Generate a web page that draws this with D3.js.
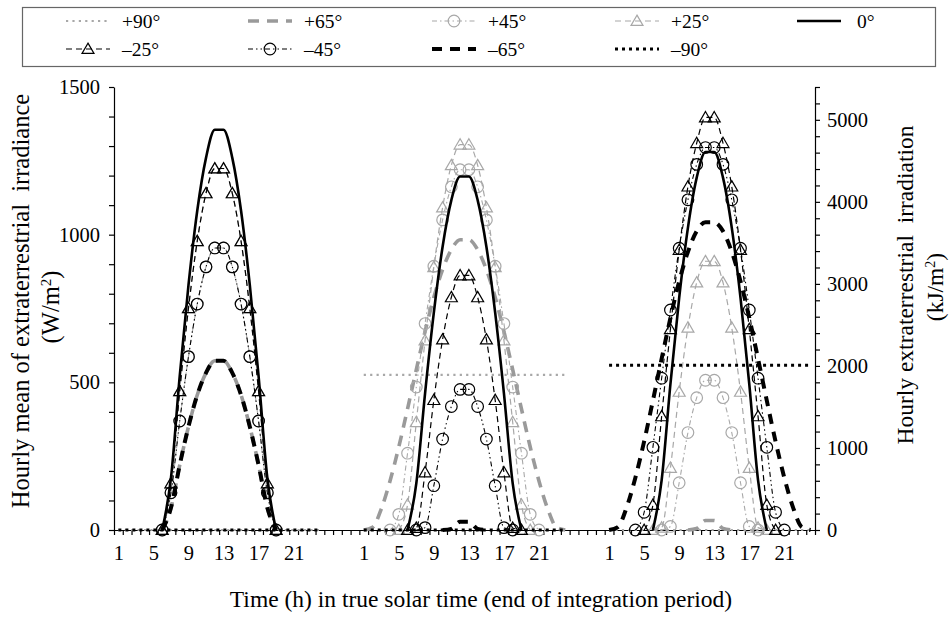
<!DOCTYPE html>
<html>
<head>
<meta charset="utf-8">
<script src="https://cdn.jsdelivr.net/npm/d3@7/dist/d3.min.js"></script>
<style>
  body { margin: 0; background: #fff; }
  svg text { font-family: "Liberation Serif", "Times New Roman", serif; fill: #000; }
</style>
</head>
<body>
<div id="chart"></div>
<script>
const n = null;

// x categories: 24 hours per panel, 4 blank slots between panels
const hours = [1, 2, 3, 4, 5, 6, 7, 8, 9, 10, 11, 12, 13, 14, 15, 16, 17, 18, 19, 20, 21, 22, 23, 24];
const blanks = ["", "", "", ""];
const categories = [...hours, ...blanks, ...hours, ...blanks, ...hours];

const leftTicks = [0, 500, 1000, 1500];
const rightTicks = [0, 1000, 2000, 3000, 4000, 5000];

const seriesNames = ["+90°", "+65°", "+45°", "+25°", "0°", "–25°", "–45°", "–65°", "–90°"];

// panel 1
const p1Plus90  = [0, 0, 0, 0, 0, 0, 0, 0, 0, 0, 0, 0, 0, 0, 0, 0, 0, 0, 0, 0, 0, 0, 0, 0];
const p1Plus65  = [n, n, n, n, n, 0, 75, 220, 350, 457, 532, 573, 573, 532, 457, 350, 220, 75, 0, n, n, n, n, n];
const p1Plus45  = [n, n, n, n, n, 0, 126, 369, 587, 765, 891, 955, 955, 891, 765, 587, 369, 126, 0, n, n, n, n, n];
const p1Plus25  = [n, n, n, n, n, 0, 158, 470, 751, 978, 1140, 1224, 1224, 1140, 978, 751, 470, 158, 0, n, n, n, n, n];
const p1Zero    = [n, n, n, n, n, 0, 176, 521, 829, 1081, 1260, 1355, 1355, 1260, 1081, 829, 521, 176, 0, n, n, n, n, n];
const p1Minus25 = [n, n, n, n, n, 0, 158, 470, 751, 978, 1140, 1224, 1224, 1140, 978, 751, 470, 158, 0, n, n, n, n, n];
const p1Minus45 = [n, n, n, n, n, 0, 126, 369, 587, 765, 891, 955, 955, 891, 765, 587, 369, 126, 0, n, n, n, n, n];
const p1Minus65 = [n, n, n, n, n, 0, 75, 220, 350, 457, 532, 573, 573, 532, 457, 350, 220, 75, 0, n, n, n, n, n];
const p1Minus90 = [0, 0, 0, 0, 0, 0, 0, 0, 0, 0, 0, 0, 0, 0, 0, 0, 0, 0, 0, 0, 0, 0, 0, 0];

// panel 2
const p2Plus90  = [525, 525, 525, 525, 525, 525, 525, 525, 525, 525, 525, 525, 525, 525, 525, 525, 525, 525, 525, 525, 525, 525, 525, 525];
const p2Plus65  = [0, 9, 71, 166, 281, 410, 543, 672, 788, 882, 949, 983, 983, 949, 882, 788, 672, 543, 410, 281, 166, 71, 9, 0];
const p2Plus45  = [n, n, n, 0, 53, 260, 484, 699, 893, 1050, 1162, 1220, 1220, 1162, 1050, 893, 699, 484, 260, 53, 0, n, n, n];
const p2Plus25  = [n, n, n, n, 0, 86, 365, 642, 890, 1092, 1235, 1305, 1305, 1235, 1092, 890, 642, 365, 86, 0, n, n, n, n];
const p2Zero    = [n, n, n, n, n, 0, 158, 463, 736, 959, 1117, 1197, 1197, 1117, 959, 736, 463, 158, 0, n, n, n, n, n];
const p2Minus25 = [n, n, n, n, n, 0, 7, 195, 440, 645, 788, 862, 862, 788, 645, 440, 195, 7, 0, n, n, n, n, n];
const p2Minus45 = [n, n, n, n, n, n, 0, 8, 150, 308, 418, 476, 476, 418, 308, 150, 8, 0, n, n, n, n, n, n];
const p2Minus65 = [n, n, n, n, n, n, n, n, n, 0, 4, 28, 28, 4, 0, n, n, n, n, n, n, n, n, n];
const p2Minus90 = [0, 0, 0, 0, 0, 0, 0, 0, 0, 0, 0, 0, 0, 0, 0, 0, 0, 0, 0, 0, 0, 0, 0, 0];

// panel 3
const p3Plus90  = [0, 0, 0, 0, 0, 0, 0, 0, 0, 0, 0, 0, 0, 0, 0, 0, 0, 0, 0, 0, 0, 0, 0, 0];
const p3Plus65  = [n, n, n, n, n, n, n, n, n, 0, 5, 32, 32, 5, 0, n, n, n, n, n, n, n, n, n];
const p3Plus45  = [n, n, n, n, n, n, 0, 12, 160, 330, 448, 507, 507, 448, 330, 160, 12, 0, n, n, n, n, n, n];
const p3Plus25  = [n, n, n, n, n, 0, 8, 210, 468, 685, 838, 910, 910, 838, 685, 468, 210, 8, 0, n, n, n, n, n];
const p3Zero    = [n, n, n, n, n, 0, 169, 494, 786, 1024, 1193, 1280, 1280, 1193, 1024, 786, 494, 169, 0, n, n, n, n, n];
const p3Minus25 = [n, n, n, n, 0, 85, 385, 680, 948, 1163, 1310, 1397, 1397, 1310, 1163, 948, 680, 385, 85, 0, n, n, n, n];
const p3Minus45 = [n, n, n, 0, 60, 280, 514, 745, 954, 1118, 1238, 1295, 1295, 1238, 1118, 954, 745, 514, 280, 60, 0, n, n, n];
const p3Minus65 = [0, 10, 76, 177, 300, 438, 580, 718, 842, 942, 1012, 1042, 1042, 1012, 942, 842, 718, 580, 438, 300, 177, 76, 10, 0];
const p3Minus90 = [558, 558, 558, 558, 558, 558, 558, 558, 558, 558, 558, 558, 558, 558, 558, 558, 558, 558, 558, 558, 558, 558, 558, 558];

const gap = [n, n, n, n];
const join = (a, b, c) => [...a, ...gap, ...b, ...gap, ...c];
const seriesValues = [
  join(p1Plus90, p2Plus90, p3Plus90),
  join(p1Plus65, p2Plus65, p3Plus65),
  join(p1Plus45, p2Plus45, p3Plus45),
  join(p1Plus25, p2Plus25, p3Plus25),
  join(p1Zero, p2Zero, p3Zero),
  join(p1Minus25, p2Minus25, p3Minus25),
  join(p1Minus45, p2Minus45, p3Minus45),
  join(p1Minus65, p2Minus65, p3Minus65),
  join(p1Minus90, p2Minus90, p3Minus90)
];

const grey = "#a8a8a8";
const styles = [
  { color: grey,   width: 2.2, dash: "2.2,4.2", marker: null },
  { color: "#9a9a9a", width: 3.6, dash: "11,8", marker: null },
  { color: grey,   width: 1.1, dash: "5,3,1.5,3", marker: "circle" },
  { color: grey,   width: 1.2, dash: "6,4", marker: "triangle" },
  { color: "#000", width: 2.6, dash: null, marker: null },
  { color: "#000", width: 1.2, dash: "6,4", marker: "triangle" },
  { color: "#000", width: 1.1, dash: "5,3,1.5,3,1.5,3", marker: "circle" },
  { color: "#000", width: 4, dash: "10,8", marker: null },
  { color: "#000", width: 3, dash: "3,4", marker: null }
];

const W = 951, H = 618;
const svg = d3.select("#chart").append("svg")
  .attr("width", W)
  .attr("height", H);

const x = d3.scaleLinear().domain([0, categories.length]).range([114, 815]);
const yL = d3.scaleLinear().domain([0, 1500]).range([530, 87]);
const yR = d3.scaleLinear().domain([0, 5400]).range([530, 87]);

// axes
const leftAxis = d3.axisLeft(yL)
  .tickValues(d3.range(0, 1501, 100))
  .tickSize(5).tickSizeOuter(0).tickPadding(9)
  .tickFormat(d => leftTicks.includes(d) ? d : "");
svg.append("g").attr("transform", "translate(114,0)").call(leftAxis);

const rightAxis = d3.axisRight(yR)
  .tickValues(d3.range(0, 5401, 200))
  .tickSize(5).tickSizeOuter(0).tickPadding(7)
  .tickFormat(d => rightTicks.includes(d) ? d : "");
svg.append("g").attr("transform", "translate(815,0)").call(rightAxis);

const bottomAxis = d3.axisBottom(x)
  .tickValues(d3.range(0, categories.length + 1))
  .tickSize(5).tickSizeOuter(0)
  .tickFormat("");
svg.append("g").attr("transform", "translate(0,530)").call(bottomAxis);

const labelIdx = categories.map((c, i) => i).filter(i => i % 4 === 0 && categories[i] !== "");
const labelAxis = d3.axisBottom(x)
  .tickValues(labelIdx.map(i => i + 0.5))
  .tickSize(0).tickPadding(15)
  .tickFormat(v => categories[v - 0.5]);
const lg = svg.append("g").attr("transform", "translate(0,530)").call(labelAxis);
lg.select(".domain").remove();

svg.selectAll(".tick text").style("font-size", "20.5px");
svg.selectAll(".domain, .tick line").attr("stroke", "#000").attr("stroke-width", 1.2);

// titles
svg.append("text").attr("transform", "translate(29,301) rotate(-90)")
  .attr("text-anchor", "middle").style("font-size", "24.5px")
  .text("Hourly mean of extraterrestrial\u00a0\u00a0irradiance");
svg.append("text").attr("transform", "translate(59,307) rotate(-90)")
  .attr("text-anchor", "middle").style("font-size", "24.5px")
  .html("(W/m<tspan dy='-8' font-size='15px'>2</tspan><tspan dy='8'>)</tspan>");

svg.append("text").attr("transform", "translate(913,285) rotate(-90)")
  .attr("text-anchor", "middle").style("font-size", "23.5px")
  .text("Hourly extraterrestrial\u00a0\u00a0irradiation");
svg.append("text").attr("transform", "translate(943,287) rotate(-90)")
  .attr("text-anchor", "middle").style("font-size", "23.5px")
  .html("(kJ/m<tspan dy='-8' font-size='14px'>2</tspan><tspan dy='8'>)</tspan>");

svg.append("text").attr("x", 481).attr("y", 607)
  .attr("text-anchor", "middle").style("font-size", "23.5px")
  .text("Time (h) in true solar time (end of integration period)");

// series
const line = d3.line()
  .defined(d => d.v != null)
  .x(d => x(d.i + 0.5))
  .y(d => yL(d.v))
  .curve(d3.curveMonotoneX);

const tri = d3.symbol().type(d3.symbolTriangle).size(62);

function drawMarker(g, kind, cx, cy, color) {
  if (kind === "circle") {
    g.append("circle").attr("cx", cx).attr("cy", cy).attr("r", 5.8)
      .attr("fill", "none").attr("stroke", color).attr("stroke-width", 1.2);
  } else if (kind === "triangle") {
    g.append("path").attr("d", tri()).attr("transform", `translate(${cx},${cy + 1})`)
      .attr("fill", "none").attr("stroke", color).attr("stroke-width", 1.2);
  }
}

seriesValues.forEach((vals, k) => {
  const st = styles[k];
  const pts = vals.map((v, i) => ({ i, v }));
  const g = svg.append("g");
  g.append("path")
    .attr("d", line(pts))
    .attr("fill", "none")
    .attr("stroke", st.color)
    .attr("stroke-width", st.width)
    .attr("stroke-dasharray", st.dash);
  if (st.marker) {
    pts.filter(p => p.v != null).forEach(p => drawMarker(g, st.marker, x(p.i + 0.5), yL(p.v), st.color));
  }
});

// legend
svg.append("rect").attr("x", 22.5).attr("y", 7.5).attr("width", 913).attr("height", 59)
  .attr("fill", "#fff").attr("stroke", "#666").attr("stroke-width", 1.2);

const colX = [66, 248, 432, 615, 797];
const rowY = [21, 49];
seriesNames.forEach((name, k) => {
  const col = k < 5 ? k : k - 5;
  const row = k < 5 ? 0 : 1;
  const st = styles[k];
  const sx = colX[col], sy = rowY[row];
  const g = svg.append("g");
  g.append("line").attr("x1", sx).attr("x2", sx + 44).attr("y1", sy).attr("y2", sy)
    .attr("stroke", st.color).attr("stroke-width", st.width).attr("stroke-dasharray", st.dash);
  if (st.marker) drawMarker(g, st.marker, sx + 22, sy, st.color);
  g.append("text").attr("x", k === 4 ? sx + 60 : sx + 56).attr("y", sy + 6.5)
    .style("font-size", "19.5px").text(name);
});
</script>
</body>
</html>
